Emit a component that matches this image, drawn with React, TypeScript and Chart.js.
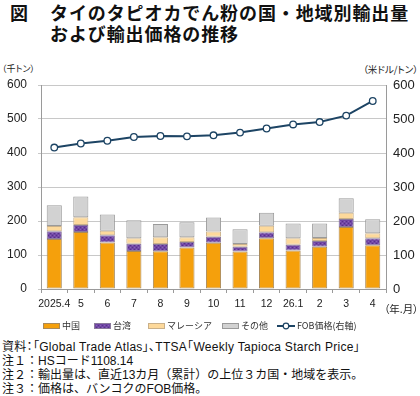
import { useEffect, useRef } from "react";
import { Chart, registerables } from "chart.js";

Chart.register(...registerables);

// Months (2025.4 – 2026.4)
const months = ["2025.4", "5", "6", "7", "8", "9", "10", "11", "12", "26.1", "2", "3", "4"];

// Export volume by destination (thousand tonnes)
const china = [147, 168, 137, 112, 111, 122, 136, 110, 149, 113, 124, 182, 129];
const taiwan = [23, 20, 21, 21, 21, 16, 18, 14, 18, 17, 17, 24, 20];
const malaysia = [15, 23, 13, 16, 20, 14, 15, 8, 19, 19, 9, 18, 15];
const others = [61, 61, 48, 53, 39, 44, 41, 44, 38, 44, 43, 43, 41];

// FOB price (USD/tonne, right axis)
const fobPrice = [416, 428, 436, 447, 450, 449, 452, 460, 472, 484, 491, 510, 553];

const leftTicks = [0, 100, 200, 300, 400, 500, 600];

const JP = '"Noto Sans CJK JP", sans-serif';
const LATIN = '"Liberation Sans", "Noto Sans CJK JP", sans-serif';

// Fine dotted fill used for the Taiwan segment
function makeDotPattern(): CanvasPattern | string {
  const c = document.createElement("canvas");
  c.width = 4;
  c.height = 4;
  const g = c.getContext("2d");
  if (!g) return "#6f45a0";
  g.fillStyle = "#7046a3";
  g.fillRect(0, 0, 4, 4);
  g.fillStyle = "#56308a";
  g.fillRect(0, 0, 1, 1);
  g.fillRect(2, 2, 1, 1);
  g.fillStyle = "#8861b8";
  g.fillRect(2, 0, 1, 1);
  g.fillRect(0, 2, 1, 1);
  const p = g.createPattern(c, "repeat");
  return p || "#6f45a0";
}

// Legend item x positions (canvas px) and vertical centre
const legendX = [43, 94, 148, 222, 277];
const legendY = 271;

const legendPlugin = {
  id: "bottomLegend",
  afterDraw(chart: any) {
    const ctx: CanvasRenderingContext2D = chart.ctx;
    ctx.save();
    ctx.font = `9px ${JP}`;
    ctx.textBaseline = "middle";
    chart.data.datasets.forEach((ds: any, i: number) => {
      let x = legendX[i];
      if (ds.type === "line") {
        ctx.strokeStyle = ds.borderColor;
        ctx.lineWidth = 2;
        ctx.beginPath();
        ctx.moveTo(x, legendY);
        ctx.lineTo(x + 18, legendY);
        ctx.stroke();
        ctx.beginPath();
        ctx.arc(x + 9, legendY, 2.8, 0, Math.PI * 2);
        ctx.fillStyle = "#fff";
        ctx.fill();
        ctx.lineWidth = 1.2;
        ctx.stroke();
        x += 20;
      } else {
        ctx.fillStyle = ds.backgroundColor;
        ctx.fillRect(x, legendY - 2, 17, 4);
        ctx.strokeStyle = ds.borderColor;
        ctx.lineWidth = 1;
        ctx.strokeRect(x + 0.5, legendY - 2.5, 16, 5);
        x += 19;
      }
      ctx.fillStyle = "#333";
      ctx.fillText(ds.label, x, legendY);
    });
    ctx.restore();
  },
};

export default function App() {
  const ref = useRef<HTMLCanvasElement>(null);

  useEffect(() => {
    if (!ref.current) return;
    const purple = makeDotPattern();
    const barCommon = {
      type: "bar" as const,
      yAxisID: "y",
      borderWidth: 1,
      borderSkipped: false,
      order: 1,
      categoryPercentage: 1,
      barPercentage: 0.57,
    };
    const chart = new Chart(ref.current, {
      type: "bar",
      data: {
        labels: months,
        datasets: [
          { ...barCommon, label: "中国", data: china, backgroundColor: "#f5a00c", borderColor: "#a98a5a" },
          { ...barCommon, label: "台湾", data: taiwan, backgroundColor: purple as any, borderColor: "#8a7a9c" },
          { ...barCommon, label: "マレーシア", data: malaysia, backgroundColor: "#fdd99b", borderColor: "#c9b08a" },
          { ...barCommon, label: "その他", data: others, backgroundColor: "#d2d2d2", borderColor: "#9a9a9a" },
          {
            type: "line" as const,
            label: "FOB価格(右軸)",
            data: fobPrice,
            yAxisID: "y1",
            order: 0,
            borderColor: "#1d4464",
            borderWidth: 2,
            pointRadius: 3.3,
            pointBorderWidth: 1.3,
            pointBackgroundColor: "#ffffff",
            pointBorderColor: "#1d4464",
            tension: 0,
          } as any,
        ],
      },
      options: {
        animation: false,
        responsive: false,
        events: [],
        layout: { padding: { top: 30, left: 0, right: 0, bottom: 0 } },
        plugins: {
          legend: { display: false },
          tooltip: { enabled: false },
          title: { display: false },
        },
        scales: {
          x: {
            stacked: true,
            grid: {
              offset: true,
              drawOnChartArea: false,
              tickLength: 4,
              color: "#9a9a9a",
            },
            border: { color: "#9a9a9a" },
            ticks: {
              font: { family: LATIN, size: 10.5 },
              color: "#222",
              padding: 5,
              maxRotation: 0,
              autoSkip: false,
            },
            afterFit(scale: any) {
              scale.height = 51;
            },
          },
          y: {
            stacked: true,
            position: "left",
            min: 0,
            max: 600,
            afterBuildTicks(scale: any) {
              scale.ticks = leftTicks.map((v) => ({ value: v }));
            },
            grid: { color: "#c8c8c8", tickLength: 3, lineWidth: 1 },
            border: { color: "#9a9a9a" },
            ticks: {
              font: { family: LATIN, size: 12 },
              color: "#222",
              padding: 11,
            },
            afterFit(scale: any) {
              scale.width = 41;
            },
          },
          y1: {
            position: "right",
            min: 0,
            max: 600,
            grid: { drawOnChartArea: false, tickLength: 0 },
            border: { color: "#9a9a9a" },
            ticks: {
              stepSize: 100,
              font: { family: LATIN, size: 13 },
              color: "#222",
              padding: 7,
            },
            afterFit(scale: any) {
              scale.width = 34;
            },
          },
        },
      },
      plugins: [legendPlugin],
    });
    return () => chart.destroy();
  }, []);

  const note: React.CSSProperties = {
    position: "absolute",
    left: 2,
    fontSize: 12,
    lineHeight: "14px",
    fontFamily: LATIN,
    color: "#111",
    whiteSpace: "nowrap",
  };

  return (
    <div
      style={{
        position: "absolute",
        left: 0,
        top: 0,
        width: 420,
        height: 396,
        background: "#ffffff",
        overflow: "hidden",
        fontFamily: JP,
        color: "#111",
      }}
    >
      <div style={{ position: "absolute", left: 10, top: 2, fontSize: 18, fontWeight: 700, lineHeight: "21px" }}>図</div>
      <div
        style={{
          position: "absolute",
          left: 50,
          top: 2,
          fontSize: 18,
          fontWeight: 700,
          lineHeight: "21px",
          letterSpacing: "0.9px",
          whiteSpace: "nowrap",
        }}
      >
        タイのタピオカでん粉の国・地域別輸出量
        <br />
        および輸出価格の推移
      </div>
      <div style={{ position: "absolute", left: 2, top: 62, fontSize: 9, fontFeatureSettings: '"palt"', color: "#222" }}>
        （千トン）
      </div>
      <div style={{ position: "absolute", right: 2, top: 62, fontSize: 9.5, fontFeatureSettings: '"palt"', color: "#222" }}>
        （米ドル/トン）
      </div>
      <canvas
        ref={ref}
        width={420}
        height={285}
        style={{ position: "absolute", left: 0, top: 55, width: 420, height: 285, display: "block" }}
      />
      <div style={{ position: "absolute", left: 384, top: 301, fontSize: 10.5, fontFeatureSettings: '"palt"', color: "#222" }}>
        （年.月）
      </div>
      <div style={{ ...note, top: 340, fontFeatureSettings: '"palt"', letterSpacing: "0.3px" }}>
        資料：「Global Trade Atlas」、TTSA「Weekly Tapioca Starch Price」
      </div>
      <div style={{ ...note, top: 354 }}>注１：HSコード1108.14</div>
      <div style={{ ...note, top: 368 }}>注２：輸出量は、直近13カ月（累計）の上位３カ国・地域を表示。</div>
      <div style={{ ...note, top: 382 }}>注３：価格は、バンコクのFOB価格。</div>
    </div>
  );
}
